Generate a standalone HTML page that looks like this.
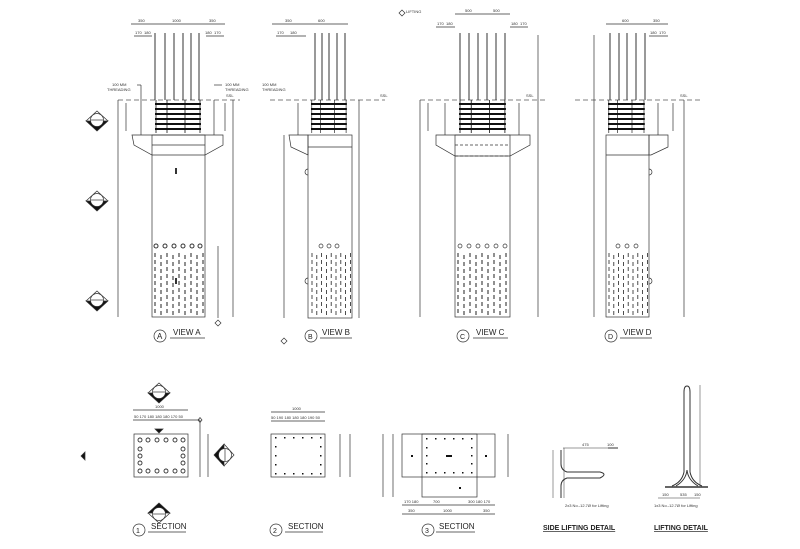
<!DOCTYPE html>
<html><head><meta charset="utf-8"><style>
html,body{margin:0;padding:0;background:#fff;}
svg{display:block;font-family:"Liberation Sans",sans-serif;}
.t{font-size:4px;fill:#333}
.l{font-size:8px;fill:#222}
</style></head><body>
<svg width="800" height="549" viewBox="0 0 800 549" xmlns="http://www.w3.org/2000/svg" stroke="#333" fill="none" stroke-width="0.7">
<defs>
<g id="hatch" stroke="#222" stroke-width="1" stroke-dasharray="4,3">
<line x1="0" y1="0" x2="0" y2="62"/><line x1="6" y1="2" x2="6" y2="62"/><line x1="12" y1="0" x2="12" y2="62"/><line x1="18" y1="2" x2="18" y2="62"/><line x1="24" y1="0" x2="24" y2="62"/><line x1="30" y1="2" x2="30" y2="62"/><line x1="36" y1="0" x2="36" y2="62"/><line x1="42" y1="2" x2="42" y2="62"/><line x1="48" y1="0" x2="48" y2="62"/>
</g>
<g id="cage" stroke="#111">
<g stroke-width="2"><line x1="0" y1="104" x2="46" y2="104"/><line x1="0" y1="109" x2="46" y2="109"/><line x1="0" y1="114" x2="46" y2="114"/><line x1="0" y1="119" x2="46" y2="119"/><line x1="0" y1="124" x2="46" y2="124"/><line x1="0" y1="129" x2="46" y2="129"/></g>
<g stroke-width="0.8"><line x1="1" y1="100" x2="1" y2="133"/><line x1="45" y1="100" x2="45" y2="133"/><line x1="12" y1="100" x2="12" y2="133"/><line x1="30" y1="100" x2="30" y2="133"/></g>
</g>
<g id="sec"><path d="M-11 1 L11 1 L0 11 Z" fill="#111"/><path d="M-11 1 L0 -9 L11 1" /><circle cx="0" cy="0" r="6.5" fill="#fff"/><line x1="-6" y1="0" x2="6" y2="0"/></g>
</defs>

<!-- SSL dashed lines -->
<g stroke-dasharray="5,3" stroke="#555">
<line x1="118" y1="100" x2="240" y2="100"/><line x1="270" y1="100" x2="385" y2="100"/>
<line x1="420" y1="100" x2="545" y2="100"/><line x1="575" y1="100" x2="700" y2="100"/>
</g>
<g class="t" stroke="none"><text x="226" y="97">SSL</text><text x="380" y="97">SSL</text><text x="526" y="97">SSL</text><text x="680" y="97">SSL</text></g>

<!-- VIEW A -->
<g>
<g stroke-width="1"><line x1="155" y1="33" x2="155" y2="100"/><line x1="165" y1="33" x2="165" y2="100"/><line x1="174" y1="33" x2="174" y2="100"/><line x1="183" y1="33" x2="183" y2="100"/><line x1="191" y1="33" x2="191" y2="100"/><line x1="199" y1="33" x2="199" y2="100"/></g>
<use href="#cage" x="155"/>
<path d="M132 135 H223 V145 L205 155 H152 L134 145 Z"/><line x1="152" y1="145" x2="205" y2="145"/>
<rect x="152" y="135" width="53" height="182"/>
<use href="#hatch" x="155" y="253"/>
<g stroke-width="1"><circle cx="156" cy="246" r="2"/><circle cx="165" cy="246" r="2"/><circle cx="174" cy="246" r="2"/><circle cx="183" cy="246" r="2"/><circle cx="192" cy="246" r="2"/><circle cx="200" cy="246" r="2"/></g>
<line x1="176" y1="168" x2="176" y2="174" stroke-width="2"/>
<line x1="176" y1="278" x2="176" y2="284" stroke-width="2"/>
<line x1="141" y1="100" x2="141" y2="135"/><line x1="214" y1="100" x2="214" y2="135"/>
<line x1="118" y1="100" x2="118" y2="317"/><line x1="233" y1="100" x2="233" y2="317"/>
<line x1="126" y1="103" x2="126" y2="131"/><line x1="225" y1="103" x2="225" y2="131"/>
<line x1="218" y1="246" x2="218" y2="318"/>
<line x1="131" y1="24" x2="225" y2="24"/><line x1="134" y1="36" x2="152" y2="36"/><line x1="206" y1="36" x2="224" y2="36"/>
<g class="t" stroke="none"><text x="138" y="22">350</text><text x="172" y="22">1000</text><text x="209" y="22">350</text><text x="135" y="34">170</text><text x="144" y="34">180</text><text x="205" y="34">180</text><text x="214" y="34">170</text>
<text x="112" y="86">100 MM</text><text x="107" y="91">THREADING</text><text x="225" y="86">100 MM</text><text x="225" y="91">THREADING</text></g>
<line x1="137" y1="85" x2="141" y2="85"/><line x1="141" y1="85" x2="141" y2="100"/><line x1="214" y1="85" x2="222" y2="85"/>
<use href="#sec" x="97" y="120"/><use href="#sec" x="97" y="200"/><use href="#sec" x="97" y="300"/>
<circle cx="160" cy="336" r="6"/><text class="l" x="157" y="339" stroke="none" fill="#222" font-size="7">A</text>
<text class="l" x="173" y="335" stroke="none">VIEW A</text><line x1="170" y1="338" x2="205" y2="338"/>
<path d="M218 320 l3 3 -3 3 -3 -3Z"/>
</g>

<!-- VIEW B -->
<g>
<g stroke-width="1"><line x1="315" y1="33" x2="315" y2="100"/><line x1="322" y1="33" x2="322" y2="100"/><line x1="329" y1="33" x2="329" y2="100"/><line x1="337" y1="33" x2="337" y2="100"/><line x1="345" y1="33" x2="345" y2="100"/></g>
<use href="#cage" x="311" transform="translate(311 0) scale(0.78 1) translate(-311 0)"/>
<path d="M289 135 H308 V155 L291 147 Z"/>
<rect x="308" y="135" width="44" height="183"/><line x1="308" y1="147" x2="352" y2="147"/>
<use href="#hatch" x="312" y="253" transform="translate(312 0) scale(0.8 1) translate(-312 0)"/>
<circle cx="321" cy="246" r="2"/><circle cx="329" cy="246" r="2"/><circle cx="337" cy="246" r="2"/>
<path d="M308 169 a2.5 2.5 0 0 0 0 6"/><path d="M308 278 a2.5 2.5 0 0 0 0 6"/>
<line x1="298" y1="103" x2="298" y2="135"/><line x1="359" y1="100" x2="359" y2="318"/><line x1="284" y1="135" x2="284" y2="318"/>
<line x1="272" y1="24" x2="348" y2="24"/><line x1="276" y1="36" x2="306" y2="36"/>
<g class="t" stroke="none"><text x="285" y="22">350</text><text x="318" y="22">600</text><text x="277" y="34">170</text><text x="290" y="34">180</text><text x="262" y="86">100 MM</text><text x="262" y="91">THREADING</text></g>
<circle cx="311" cy="336" r="6"/><text x="308" y="339" font-size="7" fill="#222" stroke="none">B</text>
<text class="l" x="322" y="335" stroke="none">VIEW B</text><line x1="320" y1="338" x2="352" y2="338"/>
<path d="M284 338 l3 3 -3 3 -3 -3Z"/>
</g>

<!-- VIEW C -->
<g>
<g stroke-width="1"><line x1="460" y1="33" x2="460" y2="100"/><line x1="469" y1="33" x2="469" y2="100"/><line x1="478" y1="33" x2="478" y2="100"/><line x1="487" y1="33" x2="487" y2="100"/><line x1="496" y1="33" x2="496" y2="100"/><line x1="505" y1="33" x2="505" y2="100"/></g>
<use href="#cage" x="459" transform="translate(459 0) scale(1.02 1) translate(-459 0)"/>
<path d="M436 135 H530 V145 L510 156 H455 L436 145 Z"/>
<line x1="455" y1="145" x2="510" y2="145" stroke-dasharray="3,2"/><line x1="455" y1="156" x2="510" y2="156" stroke-dasharray="3,2"/>
<rect x="455" y="135" width="55" height="182"/>
<use href="#hatch" x="458" y="253"/>
<circle cx="460" cy="246" r="2"/><circle cx="469" cy="246" r="2"/><circle cx="478" cy="246" r="2"/><circle cx="487" cy="246" r="2"/><circle cx="496" cy="246" r="2"/><circle cx="505" cy="246" r="2"/>
<line x1="445" y1="103" x2="445" y2="135"/><line x1="519" y1="103" x2="519" y2="135"/>
<line x1="420" y1="100" x2="420" y2="317"/><line x1="538" y1="35" x2="538" y2="317"/><line x1="428" y1="103" x2="428" y2="131"/>
<line x1="455" y1="14" x2="510" y2="14"/><line x1="436" y1="27" x2="455" y2="27"/><line x1="510" y1="27" x2="528" y2="27"/>
<g class="t" stroke="none"><text x="406" y="13">LIFTING</text><text x="465" y="12">500</text><text x="493" y="12">500</text><text x="437" y="25">170</text><text x="446" y="25">180</text><text x="511" y="25">180</text><text x="520" y="25">170</text></g>
<path d="M402 10 l3 3 -3 3 -3 -3Z"/>
<circle cx="463" cy="336" r="6"/><text x="460" y="339" font-size="7" fill="#222" stroke="none">C</text>
<text class="l" x="476" y="335" stroke="none">VIEW C</text><line x1="473" y1="338" x2="508" y2="338"/>
</g>

<!-- VIEW D -->
<g>
<g stroke-width="1"><line x1="610" y1="33" x2="610" y2="100"/><line x1="619" y1="33" x2="619" y2="100"/><line x1="627" y1="33" x2="627" y2="100"/><line x1="636" y1="33" x2="636" y2="100"/><line x1="645" y1="33" x2="645" y2="100"/></g>
<use href="#cage" x="608" transform="translate(608 0) scale(0.8 1) translate(-608 0)"/>
<path d="M649 135 H668 V147 L651 155 H649 Z"/>
<rect x="606" y="135" width="43" height="182"/><line x1="606" y1="155" x2="649" y2="155"/>
<use href="#hatch" x="609" y="253" transform="translate(609 0) scale(0.8 1) translate(-609 0)"/>
<circle cx="618" cy="246" r="2"/><circle cx="627" cy="246" r="2"/><circle cx="636" cy="246" r="2"/>
<path d="M649 169 a2.5 2.5 0 0 1 0 6"/><path d="M649 278 a2.5 2.5 0 0 1 0 6"/>
<line x1="658" y1="103" x2="658" y2="135"/><line x1="673" y1="103" x2="673" y2="131"/>
<line x1="594" y1="35" x2="594" y2="317"/><line x1="684" y1="100" x2="684" y2="317"/>
<line x1="606" y1="24" x2="668" y2="24"/><line x1="649" y1="36" x2="668" y2="36"/>
<g class="t" stroke="none"><text x="622" y="22">600</text><text x="653" y="22">350</text><text x="650" y="34">180</text><text x="659" y="34">170</text></g>
<circle cx="611" cy="336" r="6"/><text x="608" y="339" font-size="7" fill="#222" stroke="none">D</text>
<text class="l" x="623" y="335" stroke="none">VIEW D</text><line x1="620" y1="338" x2="652" y2="338"/>
</g>

<!-- SECTION 1 -->
<g>
<rect x="134" y="434" width="54" height="43"/>
<g stroke-width="0.9"><circle cx="140" cy="440" r="2"/><circle cx="148" cy="440" r="2"/><circle cx="157" cy="440" r="2"/><circle cx="166" cy="440" r="2"/><circle cx="175" cy="440" r="2"/><circle cx="183" cy="440" r="2"/>
<circle cx="140" cy="471" r="2"/><circle cx="148" cy="471" r="2"/><circle cx="157" cy="471" r="2"/><circle cx="166" cy="471" r="2"/><circle cx="175" cy="471" r="2"/><circle cx="183" cy="471" r="2"/>
<circle cx="140" cy="449" r="2"/><circle cx="140" cy="456" r="2"/><circle cx="140" cy="463" r="2"/><circle cx="183" cy="449" r="2"/><circle cx="183" cy="456" r="2"/><circle cx="183" cy="463" r="2"/></g>
<path d="M155 429 h8 l-4 4 Z" fill="#111"/>
<line x1="133" y1="410" x2="188" y2="410"/><line x1="133" y1="420" x2="200" y2="420"/>
<line x1="200" y1="420" x2="200" y2="477"/><line x1="208" y1="434" x2="208" y2="477"/>
<path d="M202 420 l-2 -2.5 -2 2.5 2 2.5Z"/>
<g class="t" stroke="none"><text x="155" y="408">1000</text><text x="134" y="418">50 170 180 180 180 170 50</text></g>
<use href="#sec" x="159" y="392"/><use href="#sec" x="159" y="514" transform="rotate(180 159 514)"/>
<use href="#sec" x="225" y="455" transform="rotate(90 225 455)"/>
<path d="M81 456 l4 -4 v8Z" fill="#111"/>
<circle cx="139" cy="530" r="6"/><text x="136" y="533" font-size="7" fill="#222" stroke="none">1</text>
<text class="l" x="151" y="529" stroke="none">SECTION</text><line x1="148" y1="532" x2="186" y2="532"/>
</g>

<!-- SECTION 2 -->
<g>
<rect x="271" y="434" width="54" height="43"/>
<g fill="#111" stroke="none"><rect x="275" y="437" width="1.5" height="1.5"/><rect x="284" y="437" width="1.5" height="1.5"/><rect x="293" y="437" width="1.5" height="1.5"/><rect x="302" y="437" width="1.5" height="1.5"/><rect x="311" y="437" width="1.5" height="1.5"/><rect x="320" y="437" width="1.5" height="1.5"/>
<rect x="275" y="473" width="1.5" height="1.5"/><rect x="284" y="473" width="1.5" height="1.5"/><rect x="293" y="473" width="1.5" height="1.5"/><rect x="302" y="473" width="1.5" height="1.5"/><rect x="311" y="473" width="1.5" height="1.5"/><rect x="320" y="473" width="1.5" height="1.5"/>
<rect x="275" y="446" width="1.5" height="1.5"/><rect x="275" y="455" width="1.5" height="1.5"/><rect x="275" y="464" width="1.5" height="1.5"/><rect x="320" y="446" width="1.5" height="1.5"/><rect x="320" y="455" width="1.5" height="1.5"/><rect x="320" y="464" width="1.5" height="1.5"/></g>
<line x1="271" y1="412" x2="325" y2="412"/><line x1="271" y1="421" x2="325" y2="421"/>
<line x1="340" y1="434" x2="340" y2="477"/><line x1="350" y1="434" x2="350" y2="477"/>
<g class="t" stroke="none"><text x="292" y="410">1000</text><text x="271" y="419">50 190 180 180 180 190 50</text></g>
<circle cx="276" cy="530" r="6"/><text x="273" y="533" font-size="7" fill="#222" stroke="none">2</text>
<text class="l" x="288" y="529" stroke="none">SECTION</text><line x1="285" y1="532" x2="323" y2="532"/>
</g>

<!-- SECTION 3 -->
<g>
<rect x="402" y="434" width="93" height="43"/>
<rect x="422" y="434" width="55" height="63"/>
<g fill="#111" stroke="none"><rect x="426" y="438" width="1.5" height="1.5"/><rect x="435" y="438" width="1.5" height="1.5"/><rect x="444" y="438" width="1.5" height="1.5"/><rect x="453" y="438" width="1.5" height="1.5"/><rect x="462" y="438" width="1.5" height="1.5"/><rect x="471" y="438" width="1.5" height="1.5"/>
<rect x="426" y="472" width="1.5" height="1.5"/><rect x="435" y="472" width="1.5" height="1.5"/><rect x="444" y="472" width="1.5" height="1.5"/><rect x="453" y="472" width="1.5" height="1.5"/><rect x="462" y="472" width="1.5" height="1.5"/><rect x="471" y="472" width="1.5" height="1.5"/>
<rect x="426" y="447" width="1.5" height="1.5"/><rect x="426" y="455" width="1.5" height="1.5"/><rect x="426" y="463" width="1.5" height="1.5"/><rect x="471" y="447" width="1.5" height="1.5"/><rect x="471" y="455" width="1.5" height="1.5"/><rect x="471" y="463" width="1.5" height="1.5"/>
<rect x="446" y="455" width="6" height="2"/><rect x="411" y="455" width="2" height="2"/><rect x="485" y="455" width="2" height="2"/><rect x="459" y="487" width="2" height="2"/></g>
<line x1="383" y1="434" x2="383" y2="497"/><line x1="393" y1="434" x2="393" y2="497"/><line x1="508" y1="434" x2="508" y2="477"/>
<line x1="402" y1="505" x2="495" y2="505"/><line x1="402" y1="514" x2="495" y2="514"/>
<g class="t" stroke="none"><text x="404" y="503">170 180</text><text x="433" y="503">700</text><text x="468" y="503">300 180 170</text><text x="408" y="512">350</text><text x="443" y="512">1000</text><text x="483" y="512">350</text></g>
<circle cx="428" cy="530" r="6"/><text x="425" y="533" font-size="7" fill="#222" stroke="none">3</text>
<text class="l" x="439" y="529" stroke="none">SECTION</text><line x1="436" y1="532" x2="475" y2="532"/>
</g>

<!-- SIDE LIFTING DETAIL -->
<g stroke-width="1">
<path d="M561 450 V464 Q561 470 567 472 L600 472 Q608 474 600 478 L567 478 Q561 480 561 486 V498"/>
<line x1="564" y1="448" x2="564" y2="498" stroke-width="0.5"/>
<line x1="553" y1="450" x2="553" y2="498" stroke-width="0.5"/>
<line x1="563" y1="448" x2="618" y2="448" stroke-width="0.5"/><line x1="608" y1="448" x2="618" y2="448"/>
<g class="t" stroke="none"><text x="582" y="446">475</text><text x="607" y="446">100</text><text x="565" y="507">2x3 No.-12.7Ø for Lifting</text></g>
<text x="543" y="530" font-size="7" font-weight="bold" fill="#222" stroke="none" text-decoration="underline">SIDE LIFTING DETAIL</text>
</g>

<!-- LIFTING DETAIL -->
<g stroke-width="1">
<path d="M672 486 Q682 482 684 472 V392 Q684 386 687 386 Q690 386 690 392 V472 Q692 482 702 486"/>
<path d="M676 486 Q686 480 687 470 Q688 480 698 486"/>
<line x1="665" y1="487" x2="708" y2="487" stroke-width="1.5"/>
<line x1="700" y1="385" x2="700" y2="486" stroke-width="0.5"/>
<line x1="658" y1="498" x2="700" y2="498" stroke-width="0.5"/>
<g class="t" stroke="none"><text x="662" y="496">150</text><text x="680" y="496">535</text><text x="694" y="496">150</text><text x="654" y="507">1x3 No.-12.7Ø for Lifting</text></g>
<text x="654" y="530" font-size="7" font-weight="bold" fill="#222" stroke="none" text-decoration="underline">LIFTING DETAIL</text>
</g>
</svg>
</body></html>
